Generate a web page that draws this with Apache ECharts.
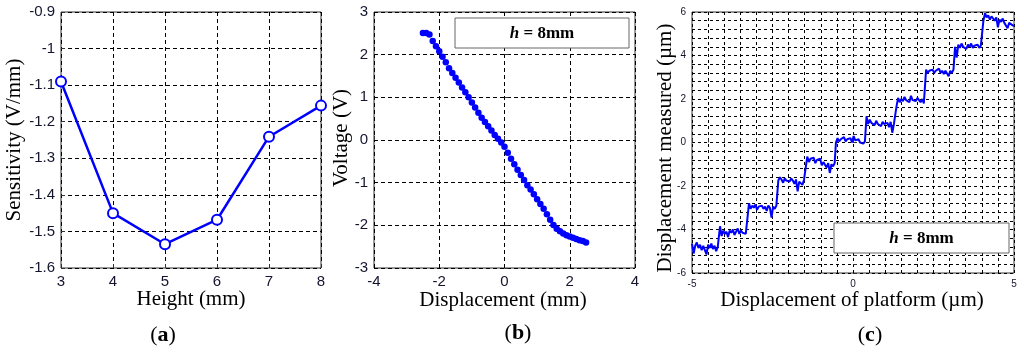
<!DOCTYPE html>
<html>
<head>
<meta charset="utf-8">
<script src="https://cdn.jsdelivr.net/npm/echarts@6/dist/echarts.min.js"></script>
<style>
html,body{margin:0;padding:0;background:#fff;}
#chart{width:1024px;height:359px;}
</style>
</head>
<body>
<div id="chart"></div>
<script>
// ---- Panel (a): sensitivity vs height ----
var heights = [3, 4, 5, 6, 7, 8];
var sensitivity = [-1.09, -1.45, -1.535, -1.468, -1.241, -1.156];

// ---- Panel (b): voltage vs displacement (h = 8mm) ----
var dispB = [-2.5,-2.4,-2.3,-2.2,-2.1,-2.0,-1.9,-1.8,-1.7,-1.6,-1.5,-1.4,-1.3,-1.2,-1.1,-1.0,-0.9,-0.8,-0.7,-0.6,-0.5,-0.4,-0.3,-0.2,-0.1,0.0,0.1,0.2,0.3,0.4,0.5,0.6,0.7,0.8,0.9,1.0,1.1,1.2,1.3,1.4,1.5,1.6,1.7,1.8,1.9,2.0,2.1,2.2,2.3,2.4,2.5];
var voltageB = [2.51,2.51,2.47,2.32,2.20,2.08,1.95,1.82,1.68,1.57,1.46,1.35,1.23,1.12,1.00,0.88,0.76,0.64,0.52,0.42,0.32,0.22,0.12,0.03,-0.06,-0.16,-0.30,-0.44,-0.57,-0.70,-0.82,-0.94,-1.06,-1.16,-1.27,-1.39,-1.50,-1.61,-1.74,-1.87,-1.99,-2.08,-2.14,-2.19,-2.23,-2.26,-2.29,-2.32,-2.35,-2.37,-2.40];

// ---- Panel (c): measured displacement vs platform displacement ----
var platformX = [
-5.00,-4.95,-4.90,-4.85,-4.80,-4.75,-4.70,-4.65,-4.60,-4.55,-4.50,-4.45,-4.40,-4.35,-4.30,-4.25,-4.20,-4.15,
-4.13,-4.08,-4.03,-3.98,-3.93,-3.88,-3.83,-3.78,-3.73,-3.68,-3.63,-3.58,-3.53,-3.48,-3.43,-3.38,-3.33,-3.28,
-3.23,-3.18,-3.13,-3.08,-3.03,-2.98,-2.93,-2.88,-2.83,-2.78,-2.73,-2.68,-2.63,-2.58,-2.53,-2.48,-2.43,-2.38,
-2.32,-2.27,-2.22,-2.17,-2.12,-2.07,-2.02,-1.97,-1.92,-1.87,-1.82,-1.77,-1.72,-1.67,-1.62,-1.57,-1.52,-1.47,
-1.42,-1.37,-1.32,-1.27,-1.22,-1.17,-1.12,-1.07,-1.02,-0.97,-0.92,-0.87,-0.82,-0.77,-0.72,-0.67,-0.62,-0.57,
-0.53,-0.48,-0.43,-0.38,-0.33,-0.28,-0.23,-0.18,-0.13,-0.08,-0.03,0.02,0.07,0.12,0.17,0.22,0.27,0.32,0.37,
0.42,0.47,0.52,0.57,0.62,0.67,0.72,0.77,0.82,0.87,0.92,0.97,1.02,1.07,1.12,1.17,1.22,1.27,1.32,
1.35,1.40,1.45,1.50,1.55,1.60,1.65,1.70,1.75,1.80,1.85,1.90,1.95,2.00,2.05,2.10,2.15,2.20,
2.27,2.32,2.37,2.42,2.47,2.52,2.57,2.62,2.67,2.72,2.77,2.82,2.87,2.92,2.97,3.02,3.07,3.12,
3.17,3.22,3.27,3.32,3.37,3.42,3.47,3.52,3.57,3.62,3.67,3.72,3.77,3.82,3.87,3.92,3.97,4.02,
4.05,4.10,4.15,4.20,4.25,4.30,4.35,4.40,4.45,4.50,4.55,4.60,4.65,4.70,4.75,4.80,4.85,4.90,4.95,5.00];
var measuredY = [
-4.65,-5.10,-4.75,-4.60,-4.85,-4.70,-4.95,-4.75,-4.80,-5.15,-4.70,-4.85,-4.65,-4.90,-4.75,-5.00,-4.80,-4.85,
-3.85,-4.30,-4.05,-4.20,-4.10,-4.35,-4.05,-4.15,-4.00,-4.25,-4.10,-3.95,-4.20,-4.05,-4.15,-4.10,-4.20,-4.15,
-2.80,-3.05,-2.90,-3.00,-2.85,-3.10,-2.95,-3.00,-2.90,-3.05,-2.95,-3.15,-2.90,-3.00,-3.45,-2.95,-3.05,-2.90,
-1.75,-1.60,-1.70,-1.85,-1.65,-1.75,-1.70,-1.80,-1.65,-1.75,-1.90,-1.70,-2.25,-1.80,-1.75,-1.95,-1.70,-1.75,
-0.65,-0.90,-0.75,-0.80,-0.70,-0.95,-0.80,-0.85,-0.75,-1.05,-0.90,-0.85,-1.15,-0.95,-1.40,-1.00,-1.10,-0.95,
0.00,0.20,0.05,0.15,0.10,0.25,0.05,0.15,0.10,0.20,0.00,0.30,0.10,0.05,0.15,0.00,0.05,-0.05,0.05,
1.20,0.85,1.05,0.90,0.95,0.80,1.00,0.85,0.90,0.75,0.95,0.85,0.80,0.90,0.70,0.95,0.45,0.85,0.80,
1.65,2.05,1.85,2.00,1.90,2.10,1.95,2.00,1.85,2.15,1.95,2.00,1.90,2.05,1.95,1.85,2.00,1.80,
3.35,3.20,3.30,3.25,3.35,3.20,3.30,3.25,3.40,3.20,3.30,3.15,3.30,3.25,3.05,3.30,3.20,3.35,
4.40,3.90,4.50,4.35,4.55,4.40,4.45,4.30,4.50,4.40,4.55,4.35,4.45,4.40,4.50,4.35,4.45,4.40,
5.60,5.95,5.75,5.85,5.65,5.80,5.70,5.60,5.75,5.30,5.65,5.55,5.70,5.50,5.55,5.25,5.50,5.45,5.40,5.35];

function pairs(xs, ys) { return xs.map(function (x, i) { return [x, ys[i]]; }); }

var SANS = '"Liberation Sans", Arial, sans-serif';
var SERIF = '"Liberation Serif", "Times New Roman", serif';
var TICKCOL = '#14142e';
var BLUE = '#0000ff';

function gridLine(dash) {
  return { show: true, lineStyle: { color: '#000', width: 1, type: dash } };
}
function baseAxis(min, max, interval, fontSize, formatter, dash) {
  return {
    type: 'value', min: min, max: max, interval: interval,
    axisLine: { show: false },
    axisTick: { show: true, inside: true, length: 4, lineStyle: { color: '#333' } },
    axisLabel: { fontFamily: SANS, fontSize: fontSize, color: TICKCOL, margin: 6, formatter: formatter },
    splitLine: gridLine(dash)
  };
}
function fmt1(v) { return String(+(+v).toFixed(1)); }
function fmtEven(v) {
  var r = Math.round(v * 10) / 10;
  if (Math.abs(r - Math.round(r)) < 1e-6 && Math.round(r) % 2 === 0) return String(Math.round(r));
  return '';
}
function fmtFive(v) {
  var r = Math.round(v * 10) / 10;
  if (Math.abs(r - Math.round(r)) < 1e-6 && Math.round(r) % 5 === 0) return String(Math.round(r));
  return '';
}

var chart = echarts.init(document.getElementById('chart'), null, { renderer: 'canvas' });

function txt(x, y, text, size, opts) {
  opts = opts || {};
  return {
    type: 'text', x: x, y: y, rotation: opts.rot || 0, z: 100,
    style: {
      text: text, fill: '#000', align: 'center', verticalAlign: 'middle',
      font: (opts.weight || 'normal') + ' ' + size + 'px ' + SERIF,
      rich: opts.rich
    }
  };
}
function legendBox(x, y, w, h) {
  return [
    { type: 'rect', z: 90, shape: { x: x, y: y, width: w, height: h },
      style: { fill: '#fff', stroke: '#666', lineWidth: 1 } },
    txt(x + w / 2, y + h / 2 + 1, '{i|h}{b| = 8mm}', 17, {
      rich: {
        i: { fontFamily: SERIF, fontSize: 17, fontWeight: 'bold', fontStyle: 'italic', fill: '#000' },
        b: { fontFamily: SERIF, fontSize: 17, fontWeight: 'bold', fill: '#000' }
      }
    })
  ];
}
function panelLabel(x, y, letter) {
  return txt(x, y, '{p|(}{b|' + letter + '}{p|)}', 22, {
    rich: {
      p: { fontFamily: SERIF, fontSize: 22, fontWeight: 'normal', fill: '#000' },
      b: { fontFamily: SERIF, fontSize: 22, fontWeight: 'bold', fill: '#000' }
    }
  });
}

var option = {
  animation: false,
  backgroundColor: '#fff',
  grid: [
    { left: 61, top: 12, width: 260, height: 256, show: true, borderColor: '#333', borderWidth: 1, backgroundColor: 'transparent' },
    { left: 374, top: 12, width: 261, height: 256, show: true, borderColor: '#333', borderWidth: 1, backgroundColor: 'transparent' },
    { left: 692, top: 12, width: 322, height: 261, show: true, borderColor: '#333', borderWidth: 1, backgroundColor: 'transparent' }
  ],
  xAxis: [
    Object.assign(baseAxis(3, 8, 1, 15, fmt1, [4, 3]), { gridIndex: 0 }),
    Object.assign(baseAxis(-4, 4, 2, 15, fmt1, [4, 3]), { gridIndex: 1 }),
    Object.assign(baseAxis(-5, 5, 0.5, 10, fmtFive, [3, 3]), { gridIndex: 2 })
  ],
  yAxis: [
    Object.assign(baseAxis(-1.6, -0.9, 0.1, 15, fmt1, [4, 3]), { gridIndex: 0 }),
    Object.assign(baseAxis(-3, 3, 1, 15, fmt1, [4, 3]), { gridIndex: 1 }),
    Object.assign(baseAxis(-6, 6, 0.4, 10, fmtEven, [3, 3]), { gridIndex: 2 })
  ],
  series: [
    { type: 'line', xAxisIndex: 0, yAxisIndex: 0, data: pairs(heights, sensitivity),
      symbol: 'emptyCircle', symbolSize: 10, showSymbol: true,
      lineStyle: { color: BLUE, width: 2.5 },
      itemStyle: { color: BLUE, borderColor: BLUE, borderWidth: 2 } },
    { type: 'scatter', xAxisIndex: 1, yAxisIndex: 1, data: pairs(dispB, voltageB),
      symbol: 'circle', symbolSize: 6.5, itemStyle: { color: BLUE, opacity: 1 } },
    { type: 'line', xAxisIndex: 2, yAxisIndex: 2, data: pairs(platformX, measuredY),
      showSymbol: false, symbol: 'none', lineStyle: { color: BLUE, width: 2 } }
  ],
  graphic: [
    txt(14, 140, 'Sensitivity (V/mm)', 21, { rot: Math.PI / 2 }),
    txt(191, 299, 'Height (mm)', 21),
    panelLabel(163, 335, 'a'),
    txt(341, 138, 'Voltage (V)', 21, { rot: Math.PI / 2 }),
    txt(503, 300, 'Displacement (mm)', 21),
    panelLabel(518, 333, 'b'),
    txt(665, 148, 'Displacement measured (\u00b5m)', 21, { rot: Math.PI / 2 }),
    txt(852, 300, 'Displacement of platform (\u00b5m)', 21),
    panelLabel(870, 335, 'c')
  ].concat(legendBox(455, 18, 174, 30)).concat(legendBox(834, 223, 175, 30))
};
chart.setOption(option);
</script>
</body>
</html>
